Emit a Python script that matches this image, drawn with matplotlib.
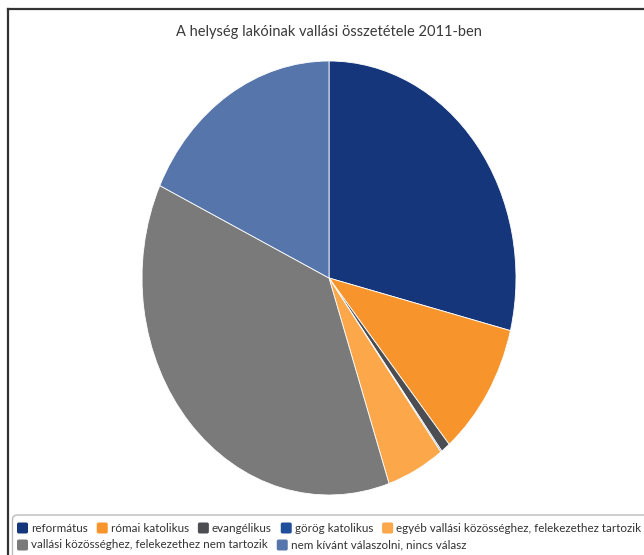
import matplotlib
matplotlib.use("Agg")
import matplotlib.pyplot as plt
from matplotlib.patches import FancyBboxPatch

title = "A helység lakóinak vallási összetétele 2011-ben"
labels = ["református", "római katolikus", "evangélikus", "görög katolikus",
          "egyéb vallási közösséghez, felekezethez tartozik",
          "vallási közösséghez, felekezethez nem tartozik",
          "nem kívánt válaszolni, nincs válasz"]
values = [28.9, 10.0, 0.8, 0.1, 5.0, 37.2, 18.0]
colors = ["#16367b", "#f7952c", "#4b4d52", "#1f4f9c", "#fba74a", "#7a7a7a", "#5675ab"]

W, H = 644, 555
fig = plt.figure(figsize=(W / 100, H / 100), dpi=100)
fig.patch.set_facecolor("white")

def fx(px):
    return px / W

def fy(py):
    return 1 - py / H

# outer frame lines (top and left)
fig.add_artist(plt.Line2D([fx(7.5), 1], [fy(8.5), fy(8.5)], transform=fig.transFigure,
                          color="#333333", lw=1.6))
fig.add_artist(plt.Line2D([fx(7.5), fx(7.5)], [fy(8.5), 0], transform=fig.transFigure,
                          color="#333333", lw=1.6))

# pie axes (slightly stretched vertically as in reference)
left, right, top, bottom = 142, 516, 61, 495
ax = fig.add_axes([fx(left), fy(bottom), (right - left) / W, (bottom - top) / H])
ax.pie(values, colors=colors, startangle=90, counterclock=False, radius=1,
       wedgeprops=dict(edgecolor="white", linewidth=0.6))
ax.set_aspect("auto")
ax.set_xlim(-1, 1)
ax.set_ylim(-1, 1)
ax.axis("off")

fig.text(fx(329), fy(32), title, ha="center", va="center", fontsize=10.5,
         color="#3a3a3a", family="Lato")

# legend box
box = FancyBboxPatch((fx(12.5), fy(560)), fx(650) - fx(12.5), fy(515) - fy(560),
                     boxstyle="round,pad=0,rounding_size=0.008", transform=fig.transFigure,
                     facecolor="white", edgecolor="#bbbbbb", lw=1.0)
fig.add_artist(box)

fig.canvas.draw()
renderer = fig.canvas.get_renderer()
rows = [list(range(5)), [5, 6]]
row_y = [528, 545]
fs = 8.4
for r, idxs in enumerate(rows):
    x = 17
    y = row_y[r]
    for i in idxs:
        sq = FancyBboxPatch((fx(x), fy(y + 5.5)), fx(11), fy(y - 5.5) - fy(y + 5.5),
                            boxstyle="round,pad=0,rounding_size=0.003",
                            transform=fig.transFigure, facecolor=colors[i],
                            edgecolor="none")
        fig.add_artist(sq)
        t = fig.text(fx(x + 14), fy(y), labels[i], ha="left", va="center",
                     fontsize=fs, color="#333333", family="Lato")
        bb = t.get_window_extent(renderer)
        x = x + 14 + bb.width + 9

fig.savefig("out.png", dpi=100)
